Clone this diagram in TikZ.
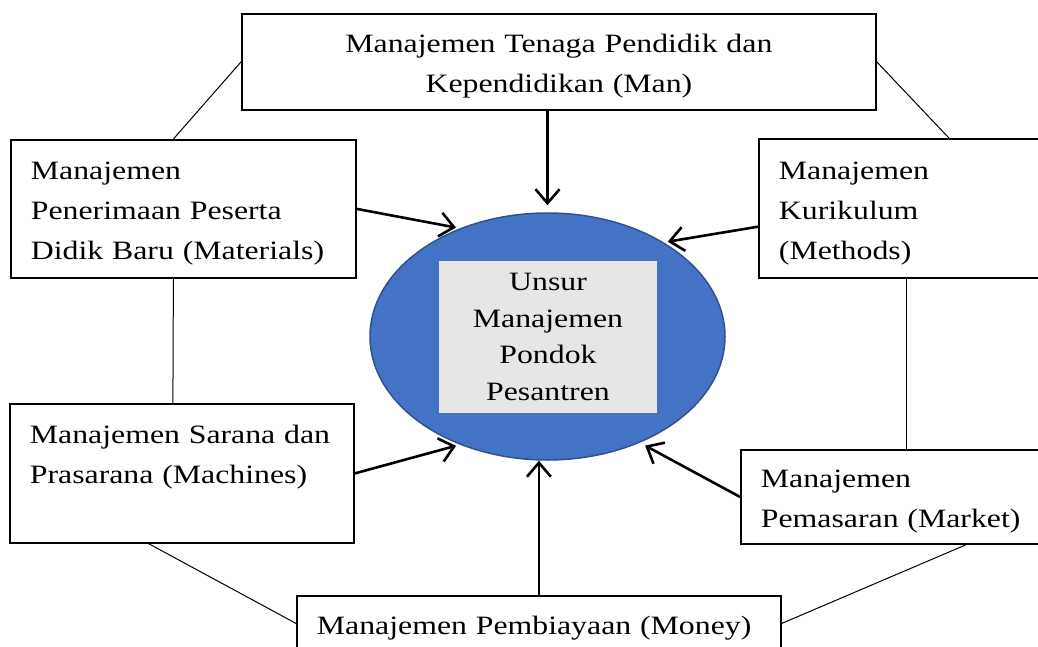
\documentclass[tikz,border=0pt]{standalone}
\usepackage{fontspec}
\setmainfont{Liberation Serif}[FakeStretch=1.2]
\usepackage{tikz}
\usetikzlibrary{calc,shapes.geometric,arrows.meta}
\definecolor{ellblue}{HTML}{4472C4}
\definecolor{ellrim}{HTML}{2F528F}
\definecolor{coregrey}{HTML}{E7E6E6}
\tikzset{
  box/.style={
    draw, line width=1.8pt, anchor=north west,
    inner xsep=20pt, inner ysep=0pt, align=left,
    text height=27pt,
    font=\fontsize{26.5}{40}\selectfont
  },
  push/.style={
    line width=2.6pt,
    -{Straight Barb[length=14pt,width=24pt]}
  },
  link/.style={line width=1pt}
}

\begin{document}
\begin{tikzpicture}[x=1pt,y=-1pt]
  \useasboundingbox (0,0) rectangle (1038,647);
  \clip (0,0) rectangle (1038,647);

  % Centre
  \node[ellipse, draw=ellrim, line width=1.5pt, fill=ellblue, inner sep=0pt,
        minimum width=355pt, minimum height=247pt] (ell) at (547.5,336.5) {};
  \node[fill=coregrey, minimum width=218pt, minimum height=152pt, align=center,
        font=\fontsize{26.5}{36.7}\selectfont] (core) at (548,337)
        {Unsur\\Manajemen\\Pondok\\Pesantren};

  % Boxes
  \node[box, align=center, text width=594pt, minimum height=96pt] (man) at (241,13)
        {Manajemen Tenaga Pendidik dan\\Kependidikan (Man)};
  \node[box, text width=305pt, minimum height=138pt] (mat) at (10,139)
        {Manajemen\\Penerimaan Peserta\\Didik Baru (Materials)};
  \node[box, text width=256pt, minimum height=139pt] (meth) at (758,138)
        {Manajemen\\Kurikulum\\(Methods)};
  \node[box, text width=304pt, minimum height=139pt, text depth=86pt] (mach) at (9,403)
        {Manajemen Sarana dan\\Prasarana (Machines)};
  \node[box, text width=292pt, minimum height=94pt] (mkt) at (740,449)
        {Manajemen\\Pemasaran (Market)};
  \node[box, text width=444pt, minimum height=55pt] (money) at (296,595)
        {Manajemen Pembiayaan (Money)};

  % Outer ring
  \draw[link] (man.west) -- ([xshift=-10pt]mat.north);
  \draw[link] ([xshift=-10pt]mat.south) -- ([xshift=-9pt]mach.north);
  \draw[link] ([xshift=-33pt]mach.south) -- (money.west);
  \draw[link] (man.east) -- ([xshift=42pt]meth.north);
  \draw[link] (meth.south) -- (mkt.north);
  \draw[link] (money.east) -- ([xshift=59pt]mkt.south);

  % Arrows into the centre
  \draw[push, shorten >=7pt] (man.south -| ell.north) -- (ell.north);
  \draw[push, shorten >=4pt] (mat.east) -- (ell.129);
  \draw[push, shorten >=4pt] ($(meth.south west)!0.37!(meth.north west)$) -- (ell.39);
  \draw[push, shorten >=4pt] (mach.east) -- (ell.231);
  \draw[push, shorten >=6pt] (mkt.west) -- (ell.311);
  \draw[push] (money.north) -- (money.north |- ell.south);
\end{tikzpicture}
\end{document}
